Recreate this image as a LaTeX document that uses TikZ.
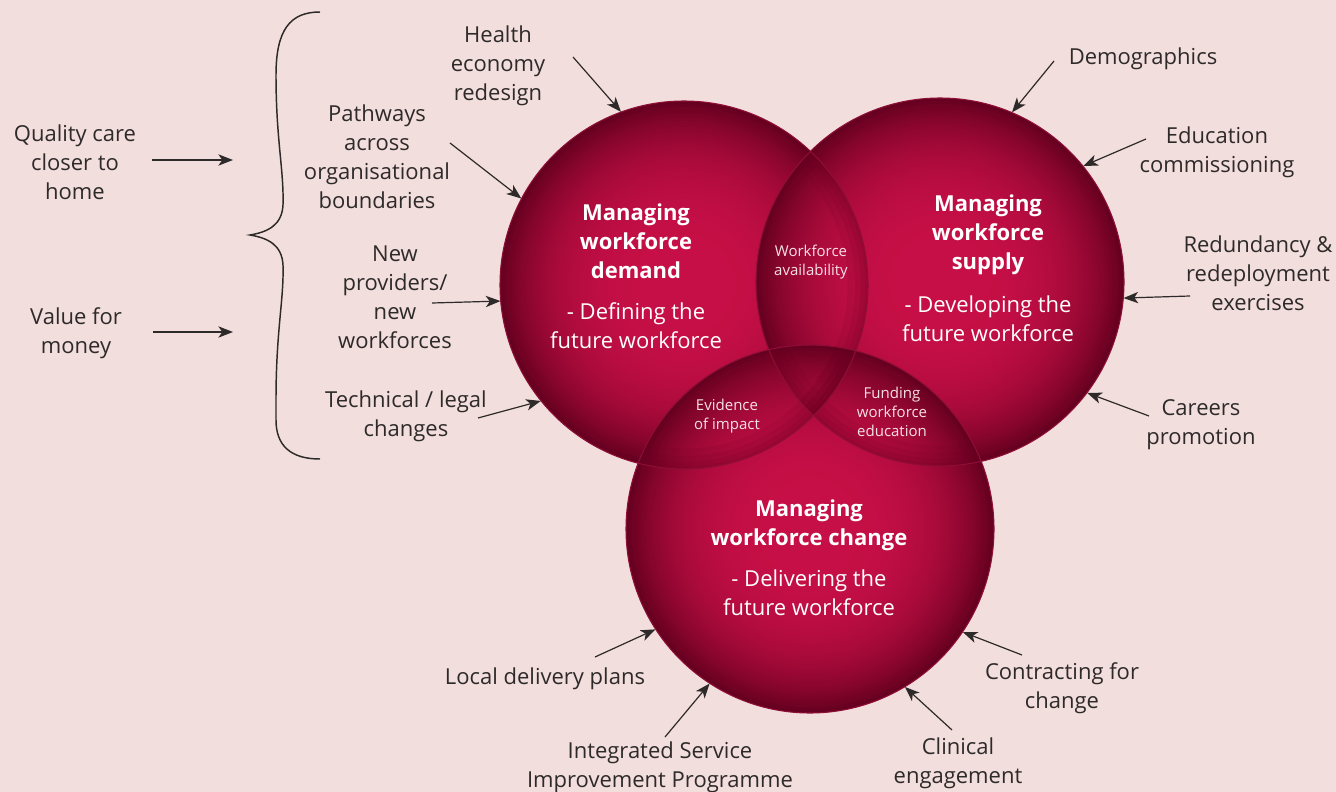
\documentclass[tikz,border=0pt]{standalone}
\usepackage{fontspec}
\setmainfont{Open Sans}
\usetikzlibrary{arrows.meta}
\definecolor{bgc}{HTML}{F2DEDC}
\definecolor{txtc}{HTML}{2E2A2A}
\definecolor{cbright}{HTML}{C60F46}
\definecolor{cdark}{HTML}{660020}
\definecolor{rimc}{HTML}{8E0E36}
\definecolor{lensc}{HTML}{F6E0E7}
\newcommand\wfgrad[1]{%
  \foreach \k in {0,...,63}{%
    \pgfmathsetmacro\wft{1-\k/64}%
    \pgfmathsetmacro\wfd{100*(\wft)^3.3}%
    \fill[cdark!\wfd!cbright] (#1) circle[radius=138pt*\wft];%
  }}
\newcommand\wfrim[1]{%
  \foreach \q in {0.985,0.96,0.93,0.89}{%
    \fill[cdark, opacity=0.12, even odd rule] (#1) circle[radius=138pt] (#1) circle[radius=138pt*\q];%
  }}
\tikzset{
  ball/.style={circle, minimum size=276pt, inner sep=0pt},
  rimline/.style={draw=rimc, line width=0.8pt},
  lbl/.style={align=center, text=txtc, inner sep=0pt, yshift=-2.25pt, font=\fontsize{16.5}{21.75}\selectfont},
  ttl/.style={align=center, text=white, inner sep=0pt, font=\fontsize{16.5}{21.75}\selectfont\bfseries},
  sub/.style={align=center, text=white, inner sep=0pt, font=\fontsize{16.5}{21.75}\selectfont},
  lens/.style={align=center, text=lensc, inner sep=0pt, font=\fontsize{11.25}{14.25}\selectfont},
  arr/.style={draw=txtc, line width=0.9pt, -{Stealth[length=11pt,width=8.5pt,inset=3pt]}},
  bracec/.style={draw=txtc, line width=1.1pt}
}
\begin{document}
\begin{tikzpicture}[x=0.75pt,y=-0.75pt]
\fill[bgc] (0,0) rectangle (1336,792);
\useasboundingbox (0,0) rectangle (1336,792);
% circles
\node[ball] (c1) at (684,285) {};
\node[ball] (c2) at (940,282) {};
\node[ball] (c3) at (810,529) {};
\wfgrad{c1.center}
\wfgrad{c2.center}
\wfgrad{c3.center}
% show-through of lower circles' rims
\begin{scope}
  \clip (c2.center) circle[radius=138pt];
  \wfrim{c1.center}
\end{scope}
\begin{scope}
  \clip (c3.center) circle[radius=138pt];
  \wfrim{c1.center}
  \wfrim{c2.center}
\end{scope}
% outlines
\draw[rimline] (c1.center) circle[radius=138pt];
\draw[rimline] (c2.center) circle[radius=138pt];
\draw[rimline] (c3.center) circle[radius=138pt];
% circle texts
\node[ttl] (t1) at (636,241.5) {Managing\\workforce\\demand};
\node[sub] (s1) at (636,325.5) {- Defining the\\future workforce};
\node[ttl] (t2) at (988,235) {Managing\\workforce\\supply};
\node[sub] (s2) at (988,318.5) {- Developing the\\future workforce};
\node[ttl] (t3) at (809,525.5) {Managing\\workforce change};
\node[sub] (s3) at (809,593) {- Delivering the\\future workforce};
\node[lens] (l12) at (811,262.5) {Workforce\\availability};
\node[lens] (l13) at (727,416.5) {Evidence\\of impact};
\node[lens] (l23) at (892,411.5) {Funding\\workforce\\education};
% outer labels
\node[lbl] (health) at (498,63) {Health\\economy\\redesign};
\node[lbl, yshift=2.25pt] (path) at (377,156.5) {Pathways\\across\\organisational\\boundaries};
\node[lbl] (newp) at (395,294.5) {New\\providers/\\new\\workforces};
\node[lbl] (tech) at (406,413.5) {Technical / legal\\changes};
\node[lbl, yshift=2.25pt] (qual) at (75,162) {Quality care\\closer to\\home};
\node[lbl] (value) at (76,330.5) {Value for\\money};
\node[lbl] (demo) at (1143,56) {Demographics};
\node[lbl] (edu) at (1217,149.5) {Education\\commissioning};
\node[lbl, yshift=2.25pt] (red) at (1258,273) {Redundancy \&\\redeployment\\exercises};
\node[lbl] (car) at (1201,421.5) {Careers\\promotion};
\node[lbl] (loc) at (545,676) {Local delivery plans};
\node[lbl] (isip) at (660,764) {Integrated Service\\Improvement Programme};
\node[lbl] (clin) at (958,760.5) {Clinical\\engagement};
\node[lbl] (contr) at (1062,685) {Contracting for\\change};
% arrow start coordinates
\coordinate (hs) at (573,57);
\coordinate (ps) at (450,143);
\coordinate (ns) at (432,303);
\coordinate (ts) at (478,418);
\coordinate (ds) at (1054,61);
\coordinate (es) at (1146,139);
\coordinate (rs) at (1190,296);
\coordinate (cs) at (1149,416);
\coordinate (ls) at (595,657);
\coordinate (is) at (665,737);
\coordinate (cls) at (952,730);
\coordinate (cos) at (1022,655);
\coordinate (qa) at (152,160);
\coordinate (qb) at (233,160);
\coordinate (va) at (153,332);
\coordinate (vb) at (233,332);
% arrows
\draw[arr] (hs) -- (c1.110.6);
\draw[arr] (ps) -- (c1.152.6);
\draw[arr] (ns) -- (c1.185.8);
\draw[arr] (ts) -- (c1.219.6);
\draw[arr] (ds) -- (c2.67.7);
\draw[arr] (es) -- (c2.39.7);
\draw[arr] (rs) -- (c2.-5);
\draw[arr] (cs) -- (c2.-37.9);
\draw[arr] (ls) -- (c3.213.4);
\draw[arr] (is) -- (c3.237.9);
\draw[arr] (cls) -- (c3.-59.7);
\draw[arr] (cos) -- (c3.-34.3);
\draw[arr] (qa) -- (qb);
\draw[arr] (va) -- (vb);
% brace
\draw[bracec] (320,12) .. controls (290,12) and (276,30) .. (276,75)
  .. controls (276,140) and (284,170) .. (283,205)
  .. controls (282,225) and (268,232) .. (250,235)
  .. controls (268,238) and (282,245) .. (283,265)
  .. controls (284,300) and (276,330) .. (276,400)
  -- (276,420) .. controls (276,445) and (290,459) .. (320,459);
\end{tikzpicture}
\end{document}
